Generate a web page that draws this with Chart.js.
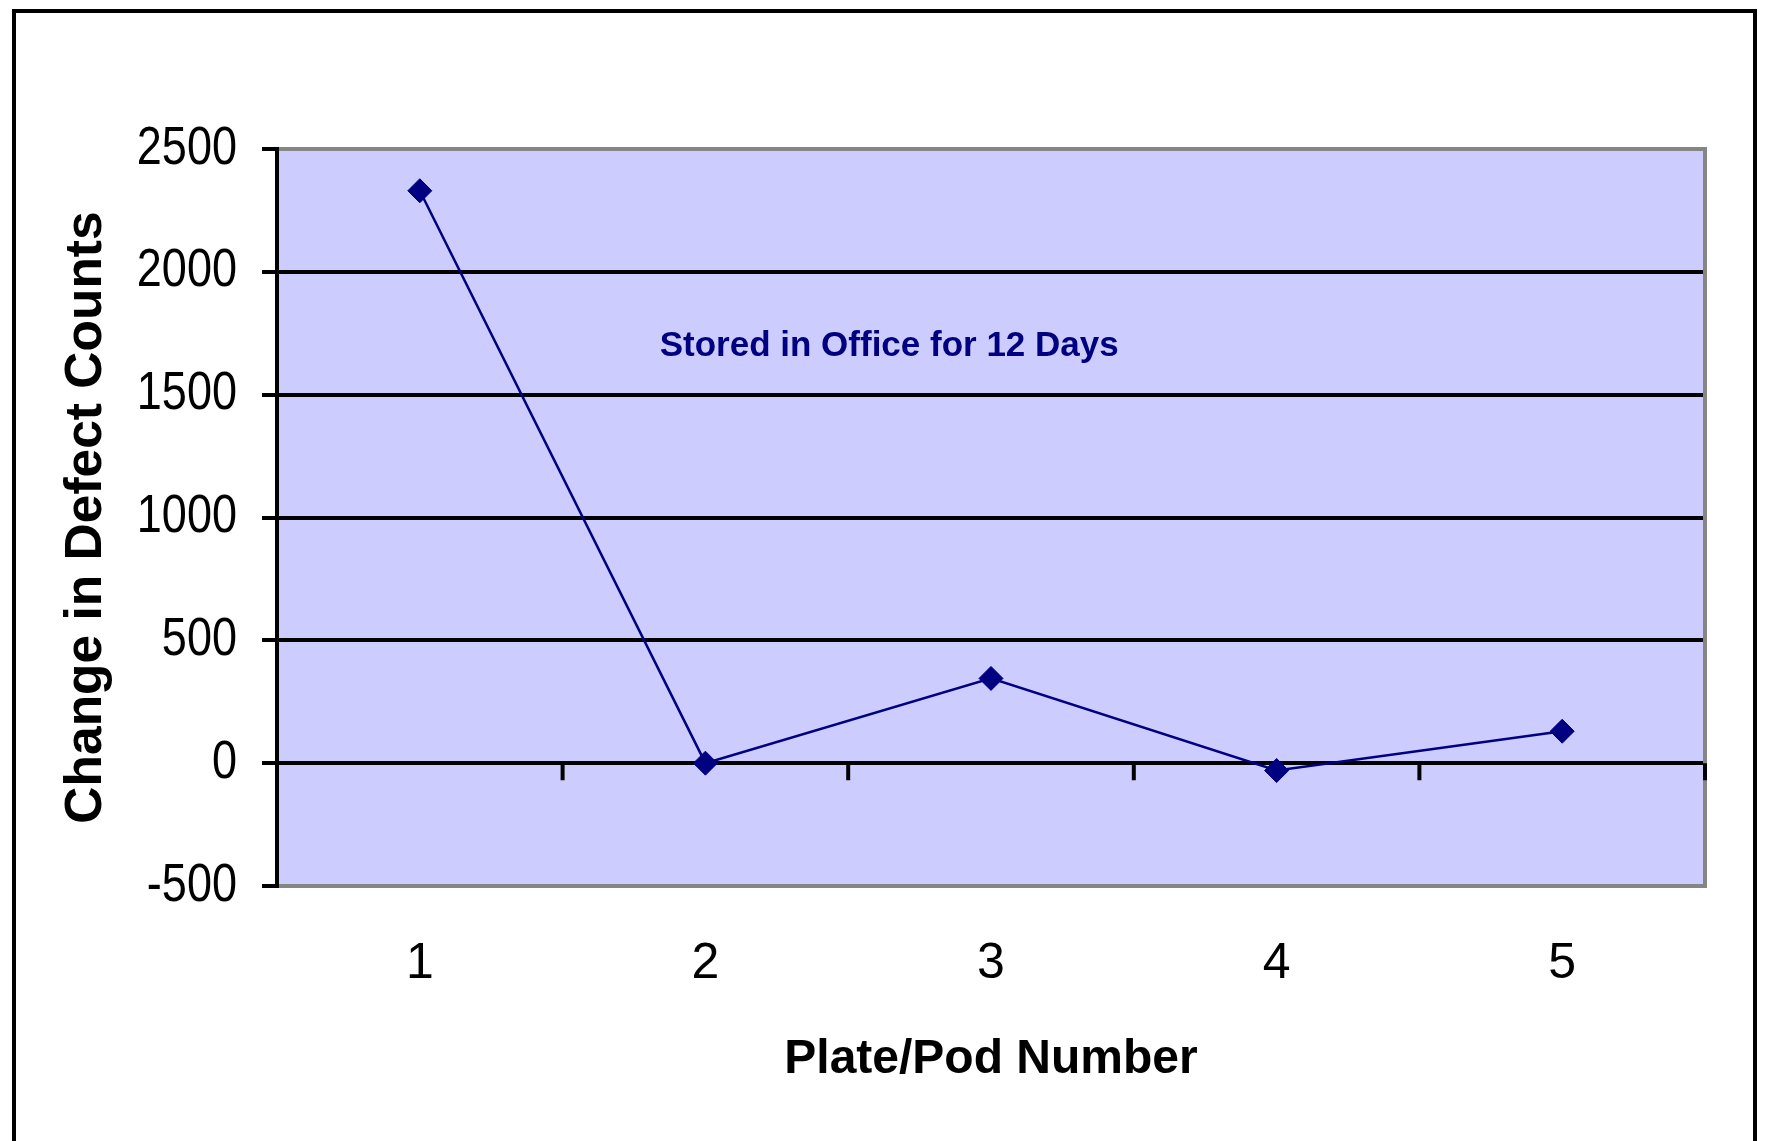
<!DOCTYPE html>
<html>
<head>
<meta charset="utf-8">
<script src="https://cdn.jsdelivr.net/npm/chart.js@4.4.1/dist/chart.umd.min.js"></script>
<style>
  html, body { margin: 0; padding: 0; background: #fff; overflow: hidden; }
  #wrap { position: relative; width: 1767px; height: 1141px; }
  #frame { position: absolute; left: 12px; top: 9px; width: 1745px; height: 1200px; border: 4px solid #000; box-sizing: border-box; pointer-events: none; }
  canvas { position: absolute; left: 0; top: 0; }
</style>
</head>
<body>
<div id="wrap">
  <canvas id="c" width="1767" height="1141"></canvas>
  <div id="frame"></div>
</div>
<script>
// ---- data ----
const categories = ['1', '2', '3', '4', '5'];
const changeInDefects = [2330, 0, 345, -30, 130];
const yTicks = [-500, 0, 500, 1000, 1500, 2000, 2500];
const annotationText = 'Stored in Office for 12 Days';
const annotationPos = [0.84, 1697]; // [category index, value]

const REG = '"Liberation Sans", Arial, sans-serif';
const BOLD = '"Liberation Sans", Arial, sans-serif';
const Y_LABEL_SQUEEZE = 0.85;

const plotDecor = {
  id: 'plotDecor',
  afterUpdate(chart) {
    // squeeze y tick labels horizontally (narrow font look), anchored at their right edge
    const ys = chart.scales.y;
    if (ys && !ys._squeezed) {
      const orig = ys.drawLabels.bind(ys);
      ys.drawLabels = function (area) {
        const c = this.ctx;
        const R = this.right - this.options.grid.tickLength - this.options.ticks.padding;
        c.save();
        c.translate(R, 0);
        c.scale(Y_LABEL_SQUEEZE, 1);
        c.translate(-R, 0);
        orig(area);
        c.restore();
      };
      ys._squeezed = true;
    }
  },
  beforeDraw(chart) {
    const {ctx, chartArea: a} = chart;
    ctx.save();
    ctx.fillStyle = '#CCCCFF';
    ctx.fillRect(a.left, a.top, a.right - a.left, a.bottom - a.top);
    ctx.restore();
  },
  beforeDatasetsDraw(chart) {
    const {ctx, chartArea: a, scales} = chart;
    const x = scales.x, y = scales.y;
    ctx.save();
    ctx.strokeStyle = '#858585';
    ctx.lineWidth = 4;
    ctx.beginPath();
    ctx.moveTo(a.left, a.top);
    ctx.lineTo(a.right, a.top);
    ctx.lineTo(a.right, a.bottom);
    ctx.lineTo(a.left, a.bottom);
    ctx.stroke();
    ctx.strokeStyle = '#000';
    ctx.beginPath();
    ctx.moveTo(a.left, a.top - 2);
    ctx.lineTo(a.left, a.bottom + 2);
    ctx.stroke();
    // category ticks at the zero line
    const y0 = y.getPixelForValue(0);
    ctx.lineWidth = 4;
    ctx.beginPath();
    for (let k = 1; k <= categories.length; k++) {
      const px = x.getPixelForValue(k - 0.5);
      ctx.moveTo(px, y0);
      ctx.lineTo(px, y0 + 17);
    }
    ctx.stroke();
    // annotation
    ctx.fillStyle = '#000080';
    ctx.font = 'bold 35px ' + BOLD;
    ctx.textAlign = 'left';
    ctx.textBaseline = 'middle';
    ctx.fillText(annotationText, x.getPixelForValue(annotationPos[0]), y.getPixelForValue(annotationPos[1]));
    ctx.restore();
  }
};

new Chart(document.getElementById('c'), {
  type: 'line',
  data: {
    labels: categories,
    datasets: [{
      data: changeInDefects,
      borderColor: '#000080',
      backgroundColor: '#000080',
      borderWidth: 2.5,
      pointStyle: 'rectRot',
      pointRadius: 12,
      pointBackgroundColor: '#000080',
      pointBorderColor: '#000080',
      pointBorderWidth: 1,
      tension: 0,
      clip: false
    }]
  },
  options: {
    responsive: false,
    animation: false,
    devicePixelRatio: 1,
    layout: { padding: { left: 0, top: 149, right: 62, bottom: 0 } },
    plugins: { legend: { display: false }, tooltip: { enabled: false } },
    scales: {
      x: {
        type: 'category',
        offset: true,
        grid: { display: false },
        border: { display: false },
        ticks: {
          color: '#000',
          padding: 40,
          maxRotation: 0,
          font: { family: REG, size: 50, lineHeight: 1.2 }
        },
        title: {
          display: true,
          text: 'Plate/Pod Number',
          color: '#000',
          font: { family: BOLD, size: 48, weight: 'bold', lineHeight: 1.2 },
          padding: { top: 0, bottom: 52 }
        },
        afterFit(scale) { scale.height = 255; }
      },
      y: {
        min: -500,
        max: 2500,
        afterBuildTicks(scale) { scale.ticks = yTicks.map(v => ({ value: v })); },
        grid: {
          color: ctx => (ctx.tick && (ctx.tick.value === 2500 || ctx.tick.value === -500)) ? '#858585' : '#000',
          tickColor: '#000',
          lineWidth: 4,
          tickLength: 15,
          drawTicks: true
        },
        border: { display: true, color: '#000', width: 4 },
        ticks: {
          color: '#000',
          padding: 25,
          callback: v => String(v),
          font: { family: REG, size: 53, lineHeight: 1.2 }
        },
        title: {
          display: true,
          text: 'Change in Defect Counts',
          color: '#000',
          font: { family: BOLD, size: 51.5, weight: 'bold', lineHeight: 1.2 },
          padding: { top: 56, bottom: 0 }
        },
        afterFit(scale) { scale.width = 277; }
      }
    }
  },
  plugins: [plotDecor]
});
</script>
</body>
</html>
